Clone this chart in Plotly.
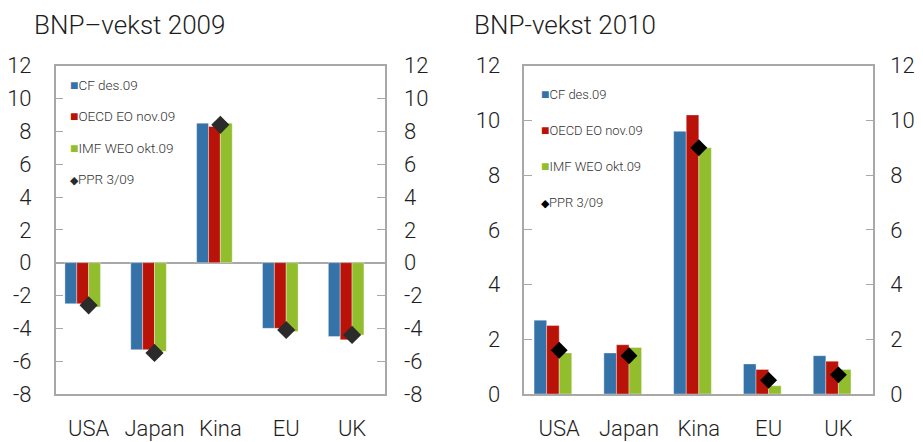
import plotly.graph_objects as go

categories = ["USA", "Japan", "Kina", "EU", "UK"]

# BNP-vekst 2009
cf_2009 = [-2.5, -5.3, 8.5, -4.0, -4.5]
oecd_2009 = [-2.5, -5.3, 8.3, -4.0, -4.7]
imf_2009 = [-2.7, -5.4, 8.5, -4.2, -4.4]
ppr_2009 = [-2.6, -5.5, 8.4, -4.1, -4.4]

# BNP-vekst 2010
cf_2010 = [2.7, 1.5, 9.6, 1.1, 1.4]
oecd_2010 = [2.5, 1.8, 10.2, 0.9, 1.2]
imf_2010 = [1.5, 1.7, 9.0, 0.3, 0.9]
ppr_2010 = [1.6, 1.4, 9.0, 0.5, 0.7]

series_names = ["CF des.09", "OECD EO nov.09", "IMF WEO okt.09", "PPR 3/09"]
ticks_2009 = [-8, -6, -4, -2, 0, 2, 4, 6, 8, 10, 12]
ticklabels_2009 = ["-8", "-6", "-4", "-2", "0", "2", "4", "6", "8", "10", "12"]
ticks_2010 = [0, 2, 4, 6, 8, 10, 12]
ticklabels_2010 = ["0", "2", "4", "6", "8", "10", "12"]

BLUE = "#3572a8"
RED = "#b91208"
GREEN = "#92bd2d"
FONT = "Roboto"
TXT = "#1e1e1e"
FRAME = "#a8a8a8"

# page offset (body margin) -> figure is a bit smaller than the window
OX, OY = 8, 8
W = 923 - OX
H = 442 - OY


def px(x):
    return (x - OX) / W


def py(y):
    return (H - (y - OY)) / H


fig = go.Figure()

bar_w = 0.18
offsets = [-0.36, -0.18, 0.0]
colors = [BLUE, RED, GREEN]


def add_panel(xa, ya, ya_r, bars, ppr, legend, dcolor, dsize):
    for vals, col, off, name in zip(bars, colors, offsets, series_names[:3]):
        fig.add_trace(go.Bar(
            x=categories, y=vals, xaxis=xa, yaxis=ya, name=name,
            width=bar_w, offset=off,
            marker=dict(color=col, line=dict(width=0.6, color="rgba(255,255,255,0.6)")),
            showlegend=False,
        ))
    fig.add_trace(go.Scatter(
        x=categories, y=ppr, xaxis=xa, yaxis=ya, mode="markers", name=series_names[3],
        marker=dict(symbol="diamond", size=dsize, color=dcolor), showlegend=False,
    ))
    # legend entries (coloured glyph right before the text, like the original)
    glyphs = ["■", "■", "■", "◆"]
    gcols = colors + [dcolor]
    gsize = [14, 14, 14, 11]
    for i, name in enumerate(series_names):
        label = ('<span style="color:%s;font-size:%dpx">%s</span>%s'
                 % (gcols[i], gsize[i], glyphs[i], name))
        fig.add_trace(go.Scatter(
            x=[None], y=[None], xaxis=xa, yaxis=ya_r, mode="markers", name=label,
            marker=dict(size=1, opacity=0, color="white"),
            legend=legend, legendgroup=legend + str(i), showlegend=True,
        ))


add_panel("x", "y", "y3", [cf_2009, oecd_2009, imf_2009], ppr_2009, "legend", "#2b2b2b", 14)
add_panel("x2", "y2", "y4", [cf_2010, oecd_2010, imf_2010], ppr_2010, "legend2", "#000000", 13)

# Domains (pixel based, window coordinates)
lx0, lx1 = px(55.7), px(385.0)
rx0, rx1 = px(524.3), px(873.3)
y0, y1 = py(394.0), py(65.7)

tickfont = dict(family=FONT, size=22, color=TXT, weight=300)

xcommon = dict(
    type="category", range=[-0.5, 4.5], showline=True, linecolor=FRAME, linewidth=1.5,
    mirror=True, ticks="", showgrid=False, zeroline=False, tickfont=tickfont,
    ticklabelstandoff=14, automargin=False,
)
ycommon = dict(
    showline=True, linecolor=FRAME, linewidth=1.5, mirror="allticks", ticks="inside",
    ticklen=8, tickcolor=FRAME, tickwidth=1.2, showgrid=False, tickfont=tickfont,
    ticklabelstandoff=18, automargin=False,
)
yright = dict(side="right", showline=False, ticks="", showgrid=False, zeroline=False,
              tickfont=tickfont, automargin=False)

fig.update_layout(
    width=W, height=H, margin=dict(l=0, r=0, t=0, b=0, pad=0, autoexpand=False),
    paper_bgcolor="white", plot_bgcolor="white", barmode="overlay",
    showlegend=True,
    xaxis=dict(domain=[lx0, lx1], anchor="y", **xcommon),
    xaxis2=dict(domain=[rx0, rx1], anchor="y2", **xcommon),
    yaxis=dict(domain=[y0, y1], anchor="x", range=[-8, 12], tickvals=ticks_2009,
               ticktext=ticklabels_2009,
               zeroline=True, zerolinecolor=FRAME, zerolinewidth=2, **ycommon),
    yaxis2=dict(domain=[y0, y1], anchor="x2", range=[0, 12], tickvals=ticks_2010,
                ticktext=ticklabels_2010, zeroline=False, **ycommon),
    yaxis3=dict(overlaying="y", anchor="x", range=[-8, 12], tickvals=ticks_2009,
                ticktext=ticklabels_2009, ticklabelstandoff=18, **yright),
    yaxis4=dict(overlaying="y2", anchor="x2", range=[0, 12], tickvals=ticks_2010,
                ticktext=ticklabels_2010, ticklabelstandoff=16, **yright),
    legend=dict(x=px(30), y=py(69), xanchor="left", yanchor="top",
                bgcolor="rgba(0,0,0,0)", borderwidth=0, tracegroupgap=11,
                itemclick=False, itemdoubleclick=False,
                font=dict(family=FONT, size=13.5, color="#333333", weight=300)),
    legend2=dict(x=px(501), y=py(79), xanchor="left", yanchor="top",
                 bgcolor="rgba(0,0,0,0)", borderwidth=0, tracegroupgap=16,
                 itemclick=False, itemdoubleclick=False,
                 font=dict(family=FONT, size=13, color="#333333", weight=300)),
    annotations=[
        dict(text="BNP–vekst 2009", x=px(32), y=py(25), xref="paper", yref="paper",
             xanchor="left", yanchor="middle", showarrow=False,
             font=dict(family=FONT, size=26, color=TXT, weight=300)),
        dict(text="BNP-vekst 2010", x=px(472), y=py(25), xref="paper", yref="paper",
             xanchor="left", yanchor="middle", showarrow=False,
             font=dict(family=FONT, size=26, color=TXT, weight=300)),
    ],
)

fig.write_html("out.html")
